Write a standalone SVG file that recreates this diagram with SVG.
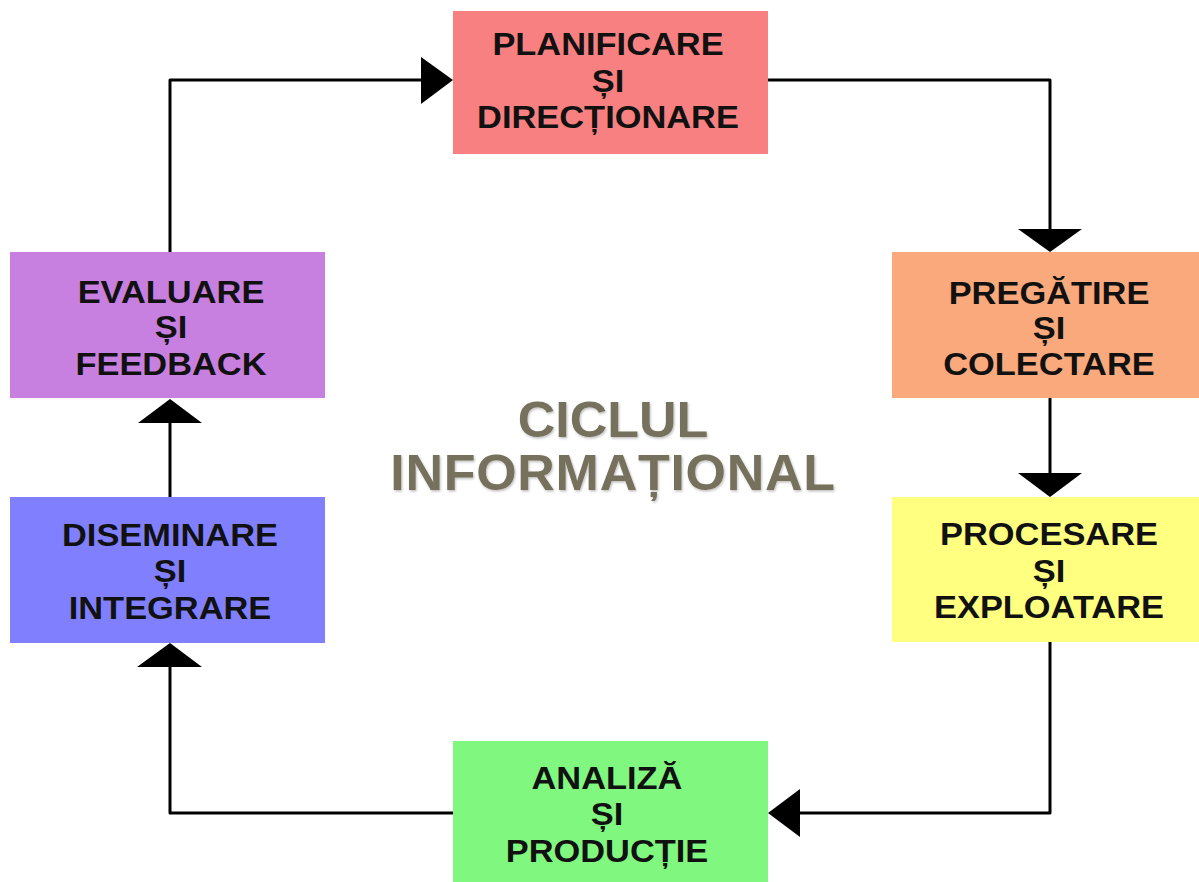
<svg xmlns="http://www.w3.org/2000/svg" width="1199" height="882" viewBox="0 0 1199 882">
<defs>
<filter id="emb" x="-5%" y="-10%" width="110%" height="130%">
<feDropShadow dx="1" dy="1.5" stdDeviation="0.8" flood-color="#000" flood-opacity="0.25"/>
</filter>
</defs>
<style>
.box{stroke:none}
.lbl{font-family:"Liberation Sans",Arial,sans-serif;font-weight:bold;font-size:31px;fill:#111;text-anchor:middle}
.ttl{font-family:"Liberation Sans",Arial,sans-serif;font-weight:bold;font-size:50px;fill:#75715d;text-anchor:middle}
.ln{fill:none;stroke:#000;stroke-width:3;stroke-linejoin:round}
.ah{fill:#000}
</style>
<rect width="1199" height="882" fill="#fff"/>
<g id="connectors">
<polyline class="ln" points="768,80 1050,80 1050,235"/>
<polygon class="ah" points="1018,229 1082,229 1050,252"/>
<line class="ln" x1="1050" y1="398" x2="1050" y2="480"/>
<polygon class="ah" points="1018,473 1082,473 1050,497"/>
<polyline class="ln" points="1050,642 1050,813 790,813"/>
<polygon class="ah" points="800,789 800,837 768,813"/>
<polyline class="ln" points="453,813 170,813 170,660"/>
<polygon class="ah" points="137,667 202,667 170,643"/>
<line class="ln" x1="170" y1="497" x2="170" y2="415"/>
<polygon class="ah" points="138,423 202,423 170,399"/>
<polyline class="ln" points="170,252 170,80 430,80"/>
<polygon class="ah" points="421,57 421,104 453,80"/>
</g>
<g id="planificare">
<rect class="box" x="453" y="11" width="315" height="143" fill="#f98080"/>
<g transform="translate(608,0) scale(1.11,1)">
<text class="lbl" x="0" y="55">PLANIFICARE</text>
<text class="lbl" x="0" y="92">ȘI</text>
<text class="lbl" x="0" y="128">DIRECȚIONARE</text>
</g>
</g>
<g id="pregatire">
<rect class="box" x="892" y="252" width="315" height="146" fill="#f9a97b"/>
<g transform="translate(1049,0) scale(1.11,1)">
<text class="lbl" x="0" y="304">PREGĂTIRE</text>
<text class="lbl" x="0" y="339">ȘI</text>
<text class="lbl" x="0" y="375">COLECTARE</text>
</g>
</g>
<g id="procesare">
<rect class="box" x="892" y="497" width="315" height="145" fill="#ffff80"/>
<g transform="translate(1049,0) scale(1.11,1)">
<text class="lbl" x="0" y="545">PROCESARE</text>
<text class="lbl" x="0" y="582">ȘI</text>
<text class="lbl" x="0" y="618">EXPLOATARE</text>
</g>
</g>
<g id="analiza">
<rect class="box" x="453" y="741" width="315" height="145" fill="#80f880"/>
<g transform="translate(607,0) scale(1.11,1)">
<text class="lbl" x="0" y="789">ANALIZĂ</text>
<text class="lbl" x="0" y="825">ȘI</text>
<text class="lbl" x="0" y="862">PRODUCȚIE</text>
</g>
</g>
<g id="diseminare">
<rect class="box" x="10" y="497" width="315" height="146" fill="#8080ff"/>
<g transform="translate(170,0) scale(1.11,1)">
<text class="lbl" x="0" y="546">DISEMINARE</text>
<text class="lbl" x="0" y="582">ȘI</text>
<text class="lbl" x="0" y="619">INTEGRARE</text>
</g>
</g>
<g id="evaluare">
<rect class="box" x="10" y="252" width="315" height="146" fill="#c880e0"/>
<g transform="translate(171,0) scale(1.11,1)">
<text class="lbl" x="0" y="303">EVALUARE</text>
<text class="lbl" x="0" y="338">ȘI</text>
<text class="lbl" x="0" y="375">FEEDBACK</text>
</g>
</g>
<g id="title" filter="url(#emb)">
<g transform="translate(613,0) scale(1.04,1)">
<text class="ttl" x="0" y="437">CICLUL</text>
<text class="ttl" x="0" y="490" letter-spacing="0.7">INFORMAȚIONAL</text>
</g>
</g>
</svg>
